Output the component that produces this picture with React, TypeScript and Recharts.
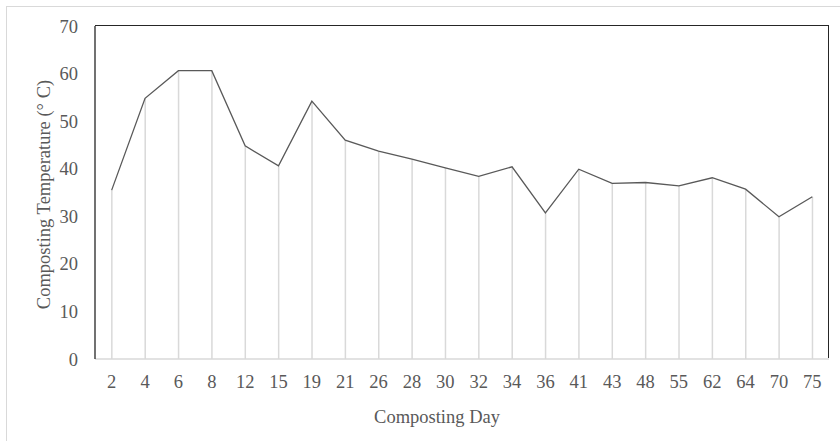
import { Bar, ComposedChart, Line, XAxis, YAxis } from "recharts";

const days = ["2", "4", "6", "8", "12", "15", "19", "21", "26", "28", "30", "32", "34", "36", "41", "43", "48", "55", "62", "64", "70", "75"];
const temperature = [35.5, 54.8, 60.6, 60.6, 44.8, 40.6, 54.2, 46.0, 43.7, 42.0, 40.2, 38.4, 40.4, 30.7, 39.9, 36.9, 37.1, 36.4, 38.1, 35.7, 29.9, 34.1];
const yTicks = [0, 10, 20, 30, 40, 50, 60, 70];

const chartData = days.map((day, i) => ({ day, temp: temperature[i] }));

const FONT = '"Liberation Serif", "Times New Roman", serif';
const TEXT = "#595959";

// plot box (margin / axis sizes below)
const PLOT = { left: 95, top: 26, right: 11, bottom: 82 };

const DropLine = (props: any) => {
  const { x, y, width, height } = props;
  const cx = x + width / 2;
  return <line x1={cx} y1={y} x2={cx} y2={y + height} stroke="#d9d9d9" strokeWidth={1.5} />;
};

const YTitle = (props: any) => {
  const { viewBox } = props;
  const cy = viewBox.y + viewBox.height / 2 + 2;
  return (
    <text
      x={50}
      y={cy}
      transform={`rotate(-90, 50, ${cy})`}
      textAnchor="middle"
      fill={TEXT}
      fontSize={18.5}
      fontFamily={FONT}
    >
      Composting Temperature (° C)
    </text>
  );
};

export default function App() {
  return (
    <div style={{ position: "absolute", left: 0, top: 0, width: 840, height: 441, overflow: "hidden", background: "#fff" }}>
      <div
        style={{
          position: "absolute",
          left: 6,
          top: 6,
          width: 900,
          height: 500,
          border: "1.5px solid #d9d9d9",
        }}
      />
      <div style={{ position: "absolute", left: 0, top: 0 }}>
        <ComposedChart
          width={840}
          height={441}
          data={chartData}
          margin={{ top: PLOT.top, right: PLOT.right, left: 0, bottom: 0 }}
          barCategoryGap="10%"
        >
          <XAxis
            dataKey="day"
            height={PLOT.bottom}
            tickLine={false}
            tickMargin={10}
            interval={0}
            axisLine={{ stroke: "#d9d9d9", strokeWidth: 1.5 }}
            tick={{ fill: TEXT, fontSize: 18.5, fontFamily: FONT }}
            label={{ value: "Composting Day", position: "insideBottom", offset: 18, fill: TEXT, fontSize: 18.5, fontFamily: FONT, dx: -25 }}
          />
          <YAxis
            width={PLOT.left}
            domain={[0, 70]}
            ticks={yTicks}
            tickLine={false}
            tickMargin={11}
            axisLine={{ stroke: "#262626", strokeWidth: 1.3 }}
            tick={{ fill: TEXT, fontSize: 18.5, fontFamily: FONT }}
            label={<YTitle />}
          />
          <Bar dataKey="temp" shape={<DropLine />} isAnimationActive={false} />
          <Line
            type="linear"
            dataKey="temp"
            stroke="#595959"
            strokeWidth={1.3}
            dot={false}
            activeDot={false}
            isAnimationActive={false}
          />
        </ComposedChart>
      </div>
      {/* plot frame: top and right edges */}
      <div
        style={{
          position: "absolute",
          left: PLOT.left,
          top: PLOT.top - 0.65,
          width: 840 - PLOT.left - PLOT.right,
          height: 441 - PLOT.top - PLOT.bottom,
          borderTop: "1.3px solid #262626",
          borderRight: "1.3px solid #262626",
          boxSizing: "border-box",
          pointerEvents: "none",
        }}
      />
    </div>
  );
}
